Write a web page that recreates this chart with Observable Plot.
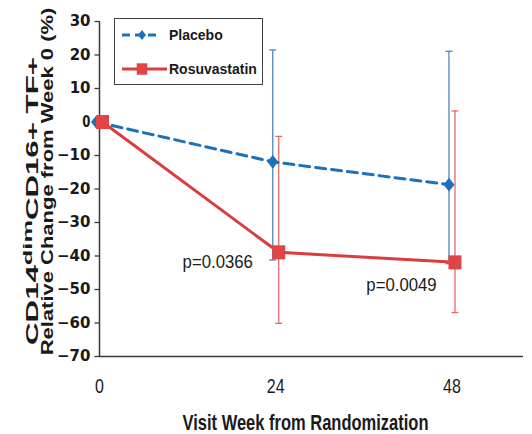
<!DOCTYPE html>
<html>
<head>
<meta charset="utf-8">
<script src="https://cdn.jsdelivr.net/npm/d3@7"></script>
<script src="https://cdn.jsdelivr.net/npm/@observablehq/plot@0.6"></script>
<style>
  html, body { margin: 0; padding: 0; background: #fff; }
  #chart svg { display: block; }
</style>
</head>
<body>
<div id="chart"></div>
<script>
// Visit weeks and the two treatment arms
const weeks = [0, 24, 48];
const seriesNames = ["Placebo", "Rosuvastatin"];

// Mean relative change (%) with lower / upper error-bar ends
const placeboMean = [0, -11.9, -18.7];
const placeboLower = [null, -41.2, -42.3];
const placeboUpper = [null, 21.5, 21.1];

const rosuvastatinMean = [0, -38.9, -41.9];
const rosuvastatinLower = [null, -60.1, -56.9];
const rosuvastatinUpper = [null, -4.3, 3.3];

// Between-arm p-values at each visit
const pLabels = [null, "p=0.0366", "p=0.0049"];

// Axis ticks
const yTicks = [-70, -60, -50, -40, -30, -20, -10, 0, 10, 20, 30];
const xTicks = [0, 24, 48];
const xTitle = "Visit Week from Randomization";

const BLUE = "#1b72bb";
const RED = "#db3d3d";
const BLUE_BAR = "#5e8cc4";
const RED_BAR = "#e46a6a";
const AXIS = "#3a3a3a";
const SANS = "'Liberation Sans', Arial, sans-serif";

const placebo = weeks.map((w, i) => ({week: w, mean: placeboMean[i], lower: placeboLower[i], upper: placeboUpper[i]}));
const rosuvastatin = weeks.map((w, i) => ({week: w, mean: rosuvastatinMean[i], lower: rosuvastatinLower[i], upper: rosuvastatinUpper[i], p: pLabels[i]}));
const withBars = d => d.lower != null;

// Custom marker shapes (d3 symbol-type objects)
const capSymbol = {draw(ctx, size) { const w = Math.sqrt(size / Math.PI); ctx.moveTo(-w, 0); ctx.lineTo(w, 0); }};
const diamondSymbol = {draw(ctx, size) { const r = Math.sqrt(size / Math.PI); ctx.moveTo(0, -r * 1.25); ctx.lineTo(r, 0); ctx.lineTo(0, r * 1.25); ctx.lineTo(-r, 0); ctx.closePath(); }};
const squareSymbol = {draw(ctx, size) { const r = Math.sqrt(size / Math.PI); ctx.rect(-r, -r * 1.08, 2 * r, 2.16 * r); }};

const SHIFT = 3; // side-by-side offset of the two arms, px

const chart = Plot.plot({
  width: 532,
  height: 434,
  marginLeft: 99,
  marginRight: 9,
  marginTop: 21,
  marginBottom: 78,
  style: {fontFamily: SANS, background: "#fff", color: "#1a1a1a"},
  x: {domain: [0, 57.74]},
  y: {domain: [-70, 30]},
  marks: [
    // error bars
    Plot.ruleX(placebo.filter(withBars), {x: "week", y1: "lower", y2: "upper", stroke: BLUE_BAR, strokeWidth: 1.4, dx: -SHIFT}),
    Plot.dot(placebo.filter(withBars), {x: "week", y: "upper", symbol: capSymbol, r: 3.5, fill: "none", stroke: BLUE_BAR, strokeWidth: 1.4, dx: -SHIFT}),
    Plot.dot(placebo.filter(withBars), {x: "week", y: "lower", symbol: capSymbol, r: 3.5, fill: "none", stroke: BLUE_BAR, strokeWidth: 1.4, dx: -SHIFT}),
    Plot.ruleX(rosuvastatin.filter(withBars), {x: "week", y1: "lower", y2: "upper", stroke: RED_BAR, strokeWidth: 1.3, dx: SHIFT}),
    Plot.dot(rosuvastatin.filter(withBars), {x: "week", y: "upper", symbol: capSymbol, r: 3.5, fill: "none", stroke: RED_BAR, strokeWidth: 1.3, dx: SHIFT}),
    Plot.dot(rosuvastatin.filter(withBars), {x: "week", y: "lower", symbol: capSymbol, r: 3.5, fill: "none", stroke: RED_BAR, strokeWidth: 1.3, dx: SHIFT}),

    // axes
    Plot.ruleX([0], {stroke: AXIS, strokeWidth: 1.5}),
    Plot.ruleY([-70], {stroke: AXIS, strokeWidth: 1.5}),
    Plot.axisY({ticks: yTicks, tickSize: 4.5, tickPadding: 4.5, stroke: AXIS, strokeWidth: 1.3, fontSize: 15, fontWeight: "bold", fontFamily: "'DejaVu Sans', sans-serif", fill: "#1a1a1a", label: null}),
    Plot.axisX({ticks: xTicks, tickSize: 0, tickPadding: 22, fontSize: 20.5, fontFamily: SANS, fill: "#1a1a1a", label: null}),
    Plot.text([xTitle], {frameAnchor: "bottom", lineAnchor: "top", dy: 58, dx: -6, fontSize: 22, fontWeight: "bold", fontFamily: SANS, fill: "#1a1a1a"}),

    // mean trajectories
    Plot.line(placebo, {x: "week", y: "mean", stroke: BLUE, strokeWidth: 3, strokeDasharray: "10,6", dx: -SHIFT}),
    Plot.line(rosuvastatin, {x: "week", y: "mean", stroke: RED, strokeWidth: 3, dx: SHIFT}),
    Plot.dot(placebo, {x: "week", y: "mean", symbol: diamondSymbol, r: 5.5, fill: BLUE, dx: -SHIFT}),
    Plot.dot(rosuvastatin, {x: "week", y: "mean", symbol: squareSymbol, r: 6.5, fill: "#e04545", dx: SHIFT}),

    // p-values
    Plot.text(rosuvastatin.filter(d => d.week === 24), {x: "week", y: "mean", text: "p", dx: SHIFT - 61, dy: 9.5, fontSize: 18, fontFamily: SANS, fill: "#1a1a1a"}),
    Plot.text(rosuvastatin.filter(d => d.week === 48), {x: "week", y: "mean", text: "p", dx: SHIFT - 53.5, dy: 23, fontSize: 18, fontFamily: SANS, fill: "#1a1a1a"})
  ]
});

document.getElementById("chart").appendChild(chart);
const svg = d3.select(chart);

// Condense selected labels horizontally (tall, narrow lettering)
function condense(match, factor) {
  svg.selectAll("text").filter(function() { return match(this.textContent); }).each(function() {
    const len = this.getComputedTextLength();
    d3.select(this).attr("textLength", len * factor).attr("lengthAdjust", "spacingAndGlyphs");
  });
}
condense(t => t === xTitle, 0.75);
condense(t => xTicks.map(String).includes(t), 0.78);
condense(t => pLabels.includes(t), 0.93);

// Two-line rotated y-axis title, stretched along its length
function rotatedLine(parts, baseX, centerY, targetLength) {
  const t = svg.append("text")
    .attr("text-anchor", "middle")
    .attr("font-family", SANS)
    .attr("font-weight", "bold")
    .attr("font-size", 16)
    .attr("fill", "#1a1a1a");
  for (const p of parts) {
    const s = t.append("tspan").text(p.text);
    if (p.size) s.attr("font-size", p.size);
    if (p.dy) s.attr("dy", p.dy);
  }
  const natural = t.node().getComputedTextLength();
  t.attr("transform", `translate(${baseX},${centerY}) rotate(-90) scale(${targetLength / natural},1)`);
}
rotatedLine([{text: "CD14"}, {text: "dim", size: 13, dy: -6}, {text: "CD16+ TF+", dy: 6}], 37.7, 201, 288);
rotatedLine([{text: "Relative Change from Week 0 (%)"}], 53.3, 181.5, 348);

// Legend box
const lg = svg.append("g").attr("text-anchor", "start");
lg.append("rect").attr("x", 114.5).attr("y", 18.5).attr("width", 148).attr("height", 66)
  .attr("fill", "#fff").attr("stroke", "#404040").attr("stroke-width", 1);
const legendItems = [
  {name: seriesNames[0], y: 35, color: BLUE, dash: "8,5", x2: 156, symbol: diamondSymbol, size: Math.PI * 4 * 4, fill: BLUE},
  {name: seriesNames[1], y: 69, color: RED, dash: null, x2: 167, symbol: squareSymbol, size: Math.PI * 5.3 * 5.3, fill: "#e04545"}
];
for (const it of legendItems) {
  lg.append("line").attr("x1", 122).attr("x2", it.x2).attr("y1", it.y).attr("y2", it.y)
    .attr("stroke", it.color).attr("stroke-width", 3).attr("stroke-dasharray", it.dash);
  lg.append("path").attr("d", d3.symbol(it.symbol, it.size)())
    .attr("transform", `translate(142,${it.y})`).attr("fill", it.fill);
  lg.append("text").attr("x", 169).attr("y", it.y + 5).text(it.name)
    .attr("font-family", SANS).attr("font-weight", "bold")
    .attr("font-size", 14).attr("fill", "#1a1a1a");
}
</script>
</body>
</html>
